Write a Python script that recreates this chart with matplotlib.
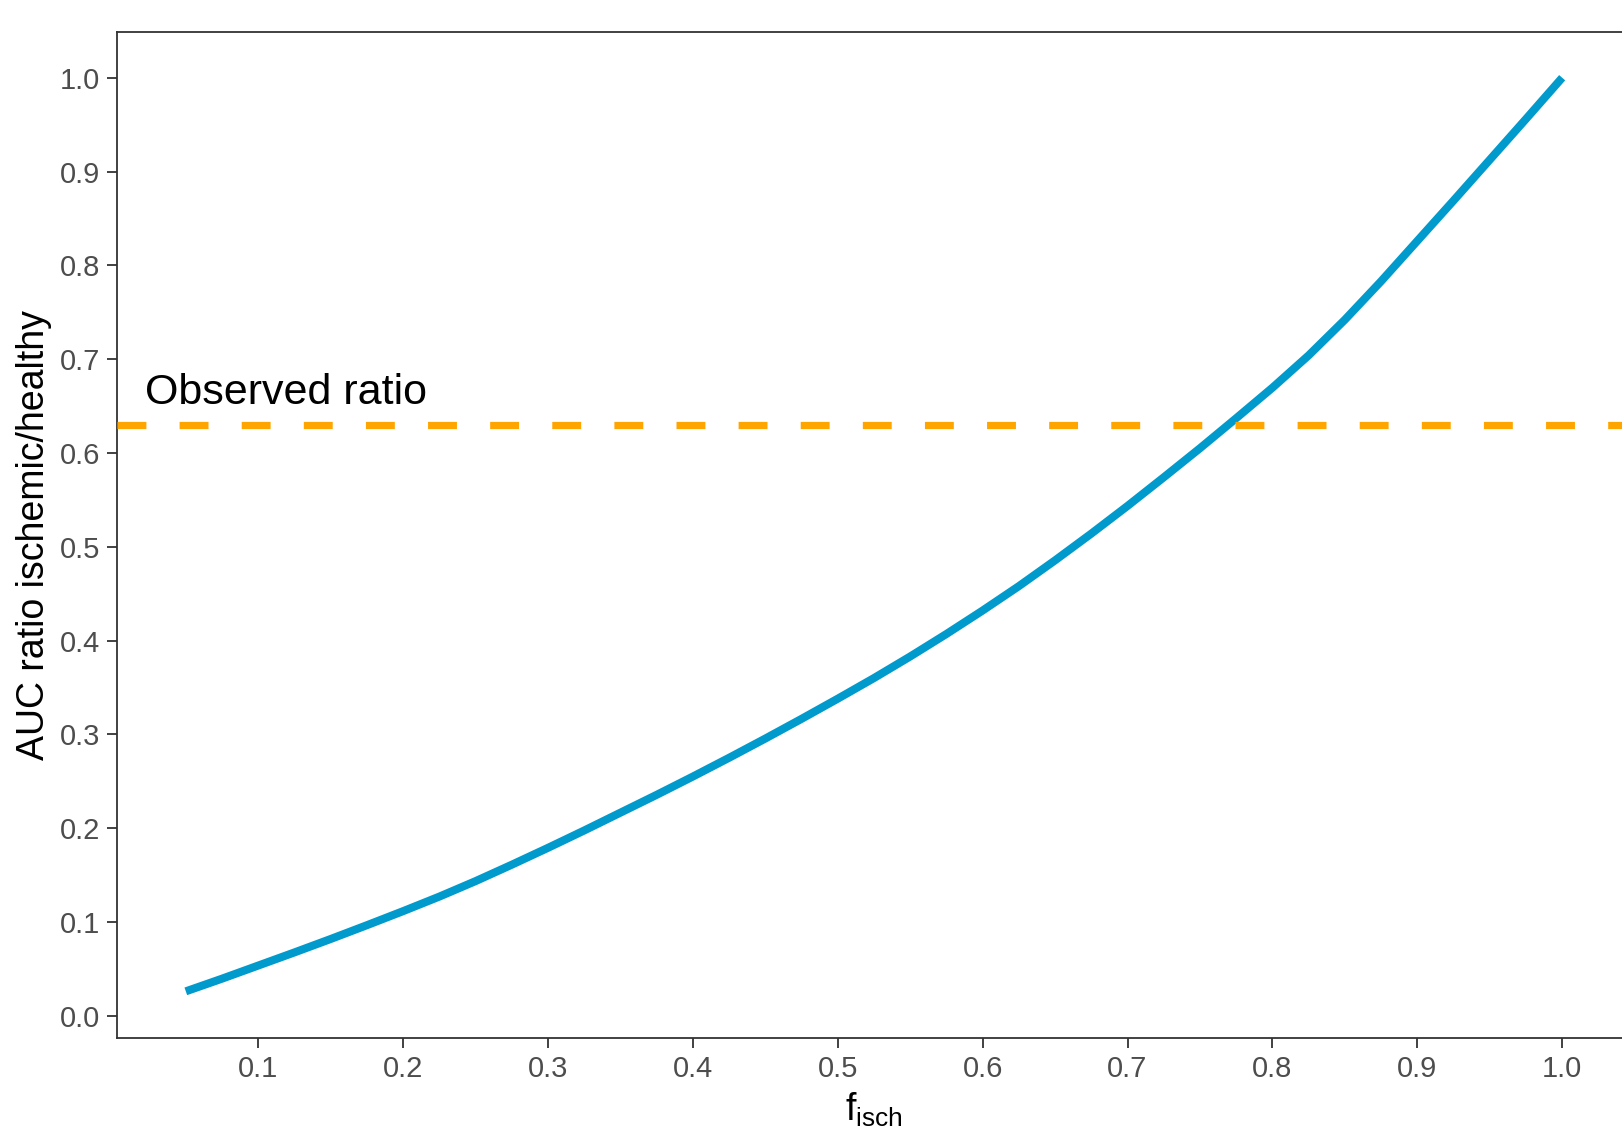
import matplotlib
matplotlib.use("Agg")
import matplotlib.pyplot as plt

plt.rcParams['font.family'] = ['Liberation Sans', 'DejaVu Sans']
plt.rcParams['mathtext.default'] = 'regular'

f_isch = [0.050, 0.075, 0.100, 0.125, 0.150, 0.175, 0.200, 0.225, 0.250, 0.275,
          0.300, 0.325, 0.350, 0.375, 0.400, 0.425, 0.450, 0.475, 0.500, 0.525,
          0.550, 0.575, 0.600, 0.625, 0.650, 0.675, 0.700, 0.725, 0.750, 0.775,
          0.800, 0.825, 0.850, 0.875, 0.900, 0.925, 0.950, 0.975, 1.000]
auc_ratio = [0.026, 0.0395, 0.0535, 0.0675, 0.0818, 0.0965, 0.1115, 0.127, 0.1435, 0.161,
             0.179, 0.1975, 0.2165, 0.2355, 0.2550, 0.2750, 0.2955, 0.3165, 0.3380, 0.3600,
             0.3830, 0.4070, 0.4320, 0.4580, 0.4855, 0.5140, 0.5435, 0.5740, 0.6050, 0.6370,
             0.6695, 0.7040, 0.7420, 0.7830, 0.8260, 0.8690, 0.9125, 0.9560, 1.000]
observed_ratio = 0.63
x_ticks = [0.1, 0.2, 0.3, 0.4, 0.5, 0.6, 0.7, 0.8, 0.9, 1.0]
y_ticks = [0.0, 0.1, 0.2, 0.3, 0.4, 0.5, 0.6, 0.7, 0.8, 0.9, 1.0]

W, H = 1622, 1134
fig = plt.figure(figsize=(W / 100, H / 100), dpi=100)
left, right, top, bottom = 117, 1631, 32, 1038
ax = fig.add_axes([left / W, (H - bottom) / H, (right - left) / W, (bottom - top) / H])

ax.plot(f_isch, auc_ratio, color='#009ACD', lw=5.8, solid_capstyle='butt',
        solid_joinstyle='round', zorder=2)
ax.axhline(observed_ratio, color='#FFA500', lw=5.2, dashes=(4, 4.6), zorder=3)
ax.text(0.0218, 0.652, 'Observed ratio', fontsize=31, color='black', ha='left', va='baseline')

ax.set_xlim(0.0025, 1.0475)
ax.set_ylim(-0.02375, 1.04875)
ax.set_xticks(x_ticks)
ax.set_yticks(y_ticks)
ax.set_xticklabels([f'{t:.1f}' for t in x_ticks])
ax.set_yticklabels([f'{t:.1f}' for t in y_ticks])
ax.tick_params(axis='both', labelsize=21, labelcolor='#4D4D4D', color='#333333',
               length=7, width=1.3, pad=5)
for s in ax.spines.values():
    s.set_color('#333333')
    s.set_linewidth(1.3)

ax.set_xlabel(r'f$_{isch}$', fontsize=27, labelpad=6)
ax.set_ylabel('AUC ratio ischemic/healthy', fontsize=27, labelpad=6)

fig.savefig('out.png', dpi=100, facecolor='white')
